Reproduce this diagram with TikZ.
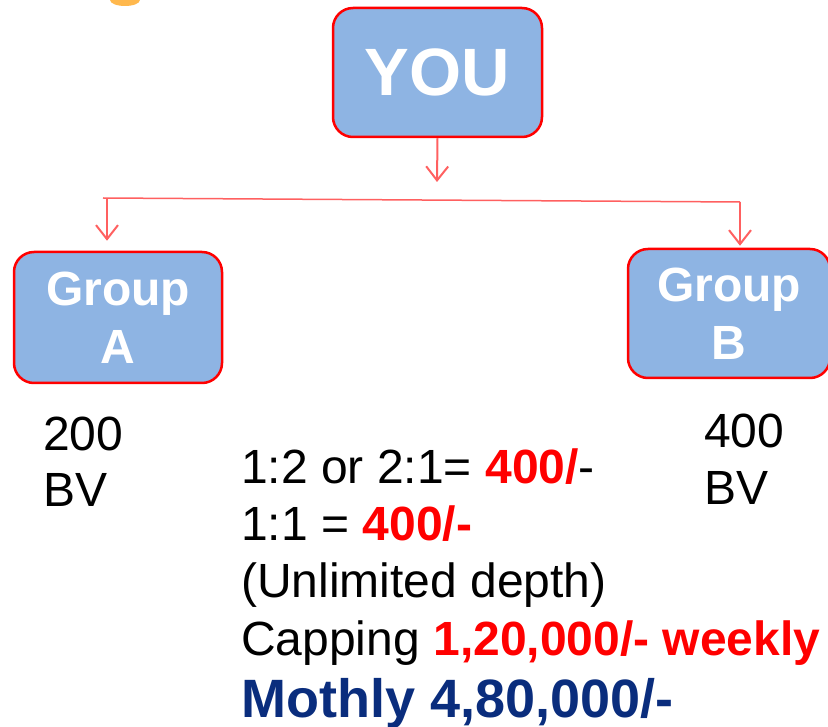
\documentclass[tikz,border=0pt]{standalone}
\usepackage{fontspec}
\setmainfont{Liberation Sans}
\usetikzlibrary{arrows.meta,positioning}
\definecolor{boxblue}{RGB}{142,180,227}
\definecolor{boxred}{RGB}{255,0,0}
\definecolor{linkred}{RGB}{255,96,96}
\definecolor{navy}{RGB}{10,45,125}
\definecolor{blob}{RGB}{255,184,77}
\tikzset{
  box/.style={draw=boxred, line width=2.5pt, fill=boxblue, rounded corners=20pt,
    text=white, font=\bfseries\fontsize{48}{58}\selectfont, align=center, inner sep=0pt},
  link/.style={draw=linkred, line width=2pt, -{Straight Barb[length=14pt,width=22pt]}},
  bar/.style={draw=linkred, line width=1.5pt},
  txt/.style={anchor=base west, inner sep=0pt, font=\fontsize{48}{57}\selectfont},
  big/.style={anchor=base west, inner sep=0pt, text=navy, font=\bfseries\fontsize{54}{62}\selectfont}
}
\begin{document}
\begin{tikzpicture}[x=1pt, y=-1pt]
	\useasboundingbox (0,0) rectangle (828,727);
	\fill[blob] (125,0) ellipse (15pt and 6pt);
	% boxes
	\node[box, minimum width=209pt, minimum height=129pt, font=\bfseries\fontsize{67}{70}\selectfont] (you) at (437.5,72.5) {YOU};
	\node[box, minimum width=208pt, minimum height=131pt] (groupA) at (118,317.5) {Group\\A};
	\node[box, minimum width=202pt, minimum height=129pt] (groupB) at (729,313.5) {Group\\B};
	% connectors
	\coordinate (youend) at (437,182);
	\coordinate (barL) at (103,198);
	\coordinate (barR) at (740,202);
	\draw[link] (you.south) -- (youend);
	\draw[bar] (barL) -- (barR);
	\draw[link] (107,198) -- ([xshift=-11pt,yshift=10pt]groupA.north);
	\draw[link] (barR) -- ([xshift=11pt,yshift=2pt]groupB.north);
	% BV
	\node[txt] (bvA1) at (43,450) {200};
	\node[txt] (bvA2) at (43,506) {BV};
	\node[txt] (bvB1) at (704,448) {400};
	\node[txt] (bvB2) at (704,504) {BV};
	% income text
	\node[txt] (l1) at (241,483) {1:2 or 2:1= \textcolor{boxred}{\bfseries 400/}-};
	\node[txt] (l2) at (241,540) {1:1 = \textcolor{boxred}{\bfseries 400/-}};
	\node[txt] (l3) at (241,597) {(Unlimited depth)};
	\node[txt] (l4) at (241,655) {Capping \textcolor{boxred}{\bfseries 1,20,000/- weekly}};
	\node[big] (l5) at (241,717) {Mothly 4,80,000/-};
\end{tikzpicture}
\end{document}
